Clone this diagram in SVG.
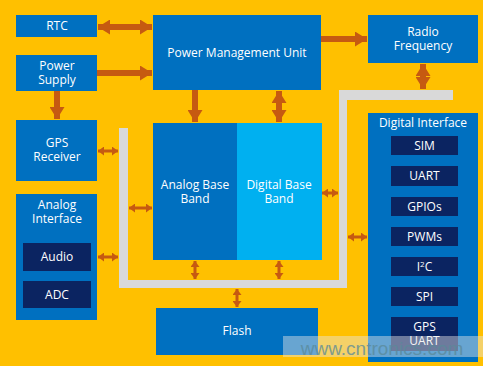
<svg xmlns="http://www.w3.org/2000/svg" width="483" height="366" viewBox="0 0 483 366">
<defs>
<marker id="big" markerUnits="userSpaceOnUse" markerWidth="13" markerHeight="15" refX="12" refY="7.5" orient="auto-start-reverse"><path d="M0,0 L12,7.5 L0,15 z" fill="#C65A11"/></marker>
<marker id="sm" markerUnits="userSpaceOnUse" markerWidth="7" markerHeight="9" refX="6" refY="4.5" orient="auto-start-reverse"><path d="M0,0 L6,4.5 L0,9 z" fill="#C65A11"/></marker>
<style>
.box{fill:#0070C0}
.lt{fill:#00B0F0}
.dk{fill:#0B2461}
.gr{fill:#D9D9D9}
text{font-family:"Open Sans","Noto Sans","Liberation Sans",sans-serif;font-size:12px;fill:#FFFFFF;text-anchor:middle}
.big{stroke:#C65A11;stroke-width:6;fill:none}
.sm{stroke:#C65A11;stroke-width:3;fill:none}
</style>
</defs>
<rect x="0" y="0" width="483" height="366" fill="#FFC000"/>
<g id="bus">
<path class="gr" d="M119,128 H128 V280 H339 V90 H453 V100 H347 V288 H119 Z"/>
</g>
<g id="rtc"><rect class="box" x="16" y="15" width="81" height="22"/><text x="57" y="30">RTC</text></g>
<g id="power-supply"><rect class="box" x="16" y="55" width="81" height="36"/><text x="57" y="70">Power</text><text x="57" y="84">Supply</text></g>
<g id="pmu"><rect class="box" x="153" y="15" width="168" height="75"/><text x="237" y="57">Power Management Unit</text></g>
<g id="rf"><rect class="box" x="368" y="15" width="110" height="48"/><text x="423" y="36">Radio</text><text x="423" y="50">Frequency</text></g>
<g id="gps"><rect class="box" x="16" y="120" width="81" height="61"/><text x="57" y="147">GPS</text><text x="57" y="161">Receiver</text></g>
<g id="analog-if"><rect class="box" x="16" y="194" width="81" height="126"/><text x="57" y="209">Analog</text><text x="57" y="223">Interface</text>
<rect class="dk" x="23" y="243" width="68" height="28"/><text x="57" y="261">Audio</text>
<rect class="dk" x="23" y="281" width="68" height="27"/><text x="57" y="299">ADC</text></g>
<g id="abb"><rect class="box" x="153" y="123" width="84" height="137"/><text x="195" y="189">Analog Base</text><text x="195" y="203">Band</text></g>
<g id="dbb"><rect class="lt" x="237" y="123" width="85" height="137"/><text x="279" y="189">Digital Base</text><text x="279" y="203">Band</text></g>
<g id="flash"><rect class="box" x="156" y="308" width="162" height="47"/><text x="237" y="335">Flash</text></g>
<g id="digital-if"><rect class="box" x="368" y="113" width="110" height="249"/><text x="423" y="127">Digital Interface</text>
<rect class="dk" x="391" y="136" width="67" height="19"/><text x="424.5" y="150">SIM</text>
<rect class="dk" x="391" y="166" width="67" height="20"/><text x="424.5" y="180">UART</text>
<rect class="dk" x="391" y="197" width="67" height="19"/><text x="424.5" y="211">GPIOs</text>
<rect class="dk" x="391" y="227" width="67" height="19"/><text x="424.5" y="241">PWMs</text>
<rect class="dk" x="391" y="257" width="67" height="19"/><text x="424.5" y="271">I<tspan font-size="8" dy="-4">2</tspan><tspan dy="4">C</tspan></text>
<rect class="dk" x="391" y="287" width="67" height="19"/><text x="424.5" y="301">SPI</text>
<rect class="dk" x="391" y="317" width="67" height="34"/><text x="424.5" y="331">GPS</text><text x="424.5" y="345">UART</text></g>
<g id="connectors">
<line class="big" x1="98" y1="27" x2="152" y2="27" marker-start="url(#big)" marker-end="url(#big)"/>
<line class="big" x1="97" y1="73" x2="152" y2="73" marker-end="url(#big)"/>
<line class="big" x1="321" y1="39" x2="367" y2="39" marker-end="url(#big)"/>
<line class="big" x1="57" y1="91" x2="57" y2="119" marker-end="url(#big)"/>
<line class="big" x1="195" y1="90" x2="195" y2="122" marker-end="url(#big)"/>
<line class="big" x1="279" y1="91" x2="279" y2="122" marker-start="url(#big)" marker-end="url(#big)"/>
<line class="big" x1="423" y1="64" x2="423" y2="89" marker-start="url(#big)" marker-end="url(#big)"/>
<line class="sm" x1="98" y1="151" x2="118" y2="151" marker-start="url(#sm)" marker-end="url(#sm)"/>
<line class="sm" x1="129" y1="208" x2="152" y2="208" marker-start="url(#sm)" marker-end="url(#sm)"/>
<line class="sm" x1="98" y1="257" x2="118" y2="257" marker-start="url(#sm)" marker-end="url(#sm)"/>
<line class="sm" x1="322" y1="193" x2="338" y2="193" marker-start="url(#sm)" marker-end="url(#sm)"/>
<line class="sm" x1="348" y1="237" x2="367" y2="237" marker-start="url(#sm)" marker-end="url(#sm)"/>
<line class="sm" x1="195" y1="261" x2="195" y2="279" marker-start="url(#sm)" marker-end="url(#sm)"/>
<line class="sm" x1="279" y1="261" x2="279" y2="279" marker-start="url(#sm)" marker-end="url(#sm)"/>
<line class="sm" x1="237" y1="289" x2="237" y2="307" marker-start="url(#sm)" marker-end="url(#sm)"/>
</g>
<g id="watermark">
<rect x="283" y="336" width="200" height="21" fill="#E6E6E6" opacity="0.45"/>
<text x="382" y="355" style="font-family:'Liberation Sans',Arial,sans-serif;font-size:19px;fill:#5A8A9A;opacity:0.75">www.cntronics.com</text>
</g>
</svg>
